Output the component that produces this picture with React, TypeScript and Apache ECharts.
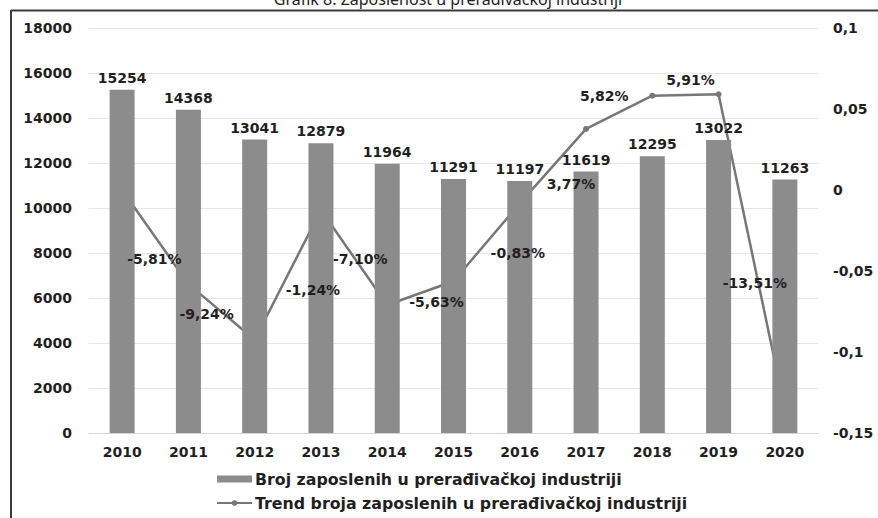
import React, { useEffect, useRef } from "react";
import * as echarts from "echarts";

const titleText = "Grafik 8. Zaposlenost u prerađivačkoj industriji";
const years = ["2010", "2011", "2012", "2013", "2014", "2015", "2016", "2017", "2018", "2019", "2020"];
const employees = [15254, 14368, 13041, 12879, 11964, 11291, 11197, 11619, 12295, 13022, 11263];
const trendPct = [0, -5.81, -9.24, -1.24, -7.1, -5.63, -0.83, 3.77, 5.82, 5.91, -13.51];
const barName = "Broj zaposlenih u prerađivačkoj industriji";
const lineName = "Trend broja zaposlenih u prerađivačkoj industriji";

// label placement (style only), offsets relative to each point
const trendLabelOffsets: (number[] | null)[] = [
  null, [-34, -25], [-48, -26], [-8, 80], [-27, -46], [-17, 21], [-2, 50], [-15, 55], [-48, 0], [-28, -14], [-30, -126],
];

const FONT = "DejaVu Sans";

export default function App() {
  const ref = useRef<HTMLDivElement>(null);
  useEffect(() => {
    if (!ref.current) return;
    const chart = echarts.init(ref.current, null, { renderer: "svg" });
    const fmtPct = (v: number) => (v * 100).toFixed(2).replace(".", ",") + "%";
    const txt = { fontFamily: FONT, fontWeight: "bold" as const, fontSize: 14, color: "#1f1f1f" };
    chart.setOption({
      animation: false,
      backgroundColor: "#ffffff",
      graphic: [
        {
          type: "text",
          x: 448,
          y: 7,
          style: {
            text: titleText,
            fontFamily: "Noto Sans",
            fontSize: 16,
            fill: "#222",
            align: "center",
            verticalAlign: "bottom",
          },
        },
        { type: "line", shape: { x1: 11, y1: 10.5, x2: 878, y2: 10.5 }, style: { stroke: "#3c3c3c", lineWidth: 2 } },
        { type: "line", shape: { x1: 11, y1: 10, x2: 11, y2: 518 }, style: { stroke: "#3c3c3c", lineWidth: 2 } },
      ],
      grid: { left: 89, right: 60, top: 28, bottom: 85 },
      legend: {
        orient: "vertical",
        left: 216,
        top: 471,
        padding: 0,
        itemWidth: 35,
        itemHeight: 7,
        itemGap: 8,
        textStyle: { ...txt, fontSize: 15.8, padding: [0, 0, 0, -2] },
        data: [{ name: barName, icon: "rect" }, { name: lineName }],
      },
      xAxis: {
        type: "category",
        data: years,
        axisTick: { show: false },
        axisLine: { lineStyle: { color: "#d6d6d6" } },
        axisLabel: { ...txt, margin: 12 },
      },
      yAxis: [
        {
          type: "value",
          min: 0,
          max: 18000,
          interval: 2000,
          axisLine: { show: false },
          axisTick: { show: false },
          splitLine: { lineStyle: { color: "#e6e6e6" } },
          axisLabel: { ...txt, margin: 17, formatter: (v: number) => String(v) },
        },
        {
          type: "value",
          min: -0.15,
          max: 0.1,
          interval: 0.05,
          axisLine: { show: false },
          axisTick: { show: false },
          splitLine: { show: false },
          axisLabel: {
            ...txt,
            margin: 15,
            formatter: (v: number) => String(Number(v.toFixed(2))).replace(".", ","),
          },
        },
      ],
      series: [
        {
          name: lineName,
          type: "line",
          yAxisIndex: 1,
          z: 1,
          data: trendPct.map((p) => p / 100),
          symbol: "circle",
          symbolSize: 6,
          itemStyle: { color: "#777777" },
          lineStyle: { color: "#777777", width: 2.5 },
        },
        {
          name: barName,
          type: "bar",
          z: 3,
          barWidth: 25,
          data: employees,
          itemStyle: { color: "#8c8c8c" },
          label: { show: true, position: "top", distance: 5, ...txt },
        },
        {
          name: "trendLabels",
          type: "scatter",
          yAxisIndex: 1,
          z: 5,
          silent: true,
          symbolSize: 1,
          itemStyle: { color: "rgba(0,0,0,0)", opacity: 1 },
          data: trendPct.map((p, i) => {
            const off = trendLabelOffsets[i];
            return {
              value: p / 100,
              label: off
                ? {
                    show: true,
                    position: "inside",
                    offset: off,
                    formatter: () => fmtPct(p / 100),
                    ...txt,
                    opacity: 1,
                    textBorderWidth: 0,
                  }
                : { show: false },
            };
          }),
        },
      ],
    });
    return () => chart.dispose();
  }, []);
  return <div ref={ref} style={{ position: "absolute", left: 0, top: 0, width: 878, height: 518 }} />;
}
